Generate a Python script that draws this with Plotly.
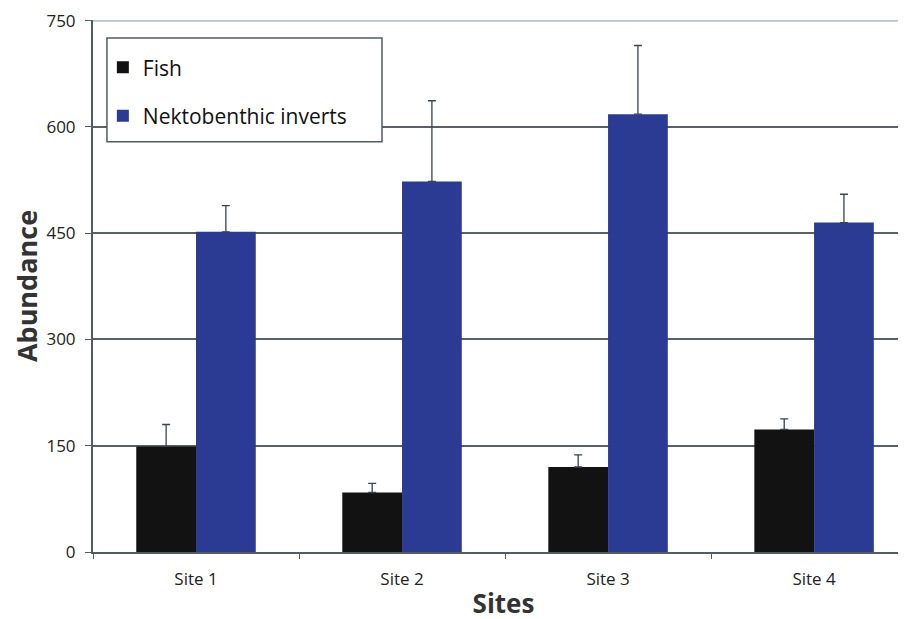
import plotly.graph_objects as go

sites = ["Site 1", "Site 2", "Site 3", "Site 4"]
fish = [149, 84, 120, 173]
fish_err = [31, 13, 17, 15]
inverts = [452, 523, 618, 465]
inverts_err = [37, 114, 97, 40]
y_ticks = [0, 150, 300, 450, 600, 750]

font_family = "Open Sans"

fig = go.Figure()
fig.add_trace(go.Bar(
    x=sites, y=fish, name="Fish", marker_color="#121212",
    marker_line_width=0, legendgroup="a",
    error_y=dict(type="data", array=fish_err, arrayminus=[0]*4, symmetric=False,
                 color="#3c4250", thickness=1.3, width=4),
))
fig.add_trace(go.Bar(
    x=sites, y=inverts, name="Nektobenthic inverts", marker_color="#2b3a92",
    marker_line_width=0, legendgroup="b",
    error_y=dict(type="data", array=inverts_err, arrayminus=[0]*4, symmetric=False,
                 color="#3c4250", thickness=1.3, width=4),
))

fig.update_layout(
    width=906, height=619,
    margin=dict(l=85, r=0, t=12, b=75),
    paper_bgcolor="white", plot_bgcolor="white",
    barmode="group", bargap=0.42, bargroupgap=0,
    font=dict(family=font_family, color="#222222"),
    showlegend=True,
    legend=dict(
        x=0.012, y=0.966, xanchor="left", yanchor="top",
        borderwidth=0, bgcolor="rgba(0,0,0,0)",
        font=dict(size=21, family=font_family, color="#111"),
        traceorder="grouped", tracegroupgap=18,
        itemwidth=30,
        title=dict(text=" ", font=dict(size=7)),
    ),
    xaxis=dict(
        range=[-0.5, 3.485], showgrid=False,
        showline=True, linecolor="#555b63", linewidth=2,
        ticks="outside", tickson="boundaries", ticklen=5, tickcolor="#555b63",
        tickfont=dict(size=17, family=font_family, color="#222"),
        ticklabelstandoff=11,
        title=dict(text="<b>Sites</b>", font=dict(size=26, family=font_family, color="#333"), standoff=5),
    ),
    yaxis=dict(
        range=[0, 751], tickvals=y_ticks,
        showgrid=True, gridcolor="#5a6068", gridwidth=2,
        showline=True, linecolor="#555b63", linewidth=2,
        ticks="outside", ticklen=6, tickcolor="#555b63",
        tickfont=dict(size=17, family=font_family, color="#222"),
        ticklabelstandoff=6,
        zeroline=False,
        title=dict(text="<b>Abundance</b>", font=dict(size=27, family=font_family, color="#333"), standoff=9),
    ),
    shapes=[
        dict(type="line", xref="paper", yref="y", x0=0, x1=1, y0=750, y1=750,
             line=dict(color="#b8c4d0", width=2), layer="above"),
        dict(type="rect", xref="paper", yref="paper", x0=0.017, x1=0.352, y0=0.771, y1=0.966,
             fillcolor="white", line=dict(color="#555b63", width=1.5), layer="above"),
    ],
)

fig.write_html("out.html")
